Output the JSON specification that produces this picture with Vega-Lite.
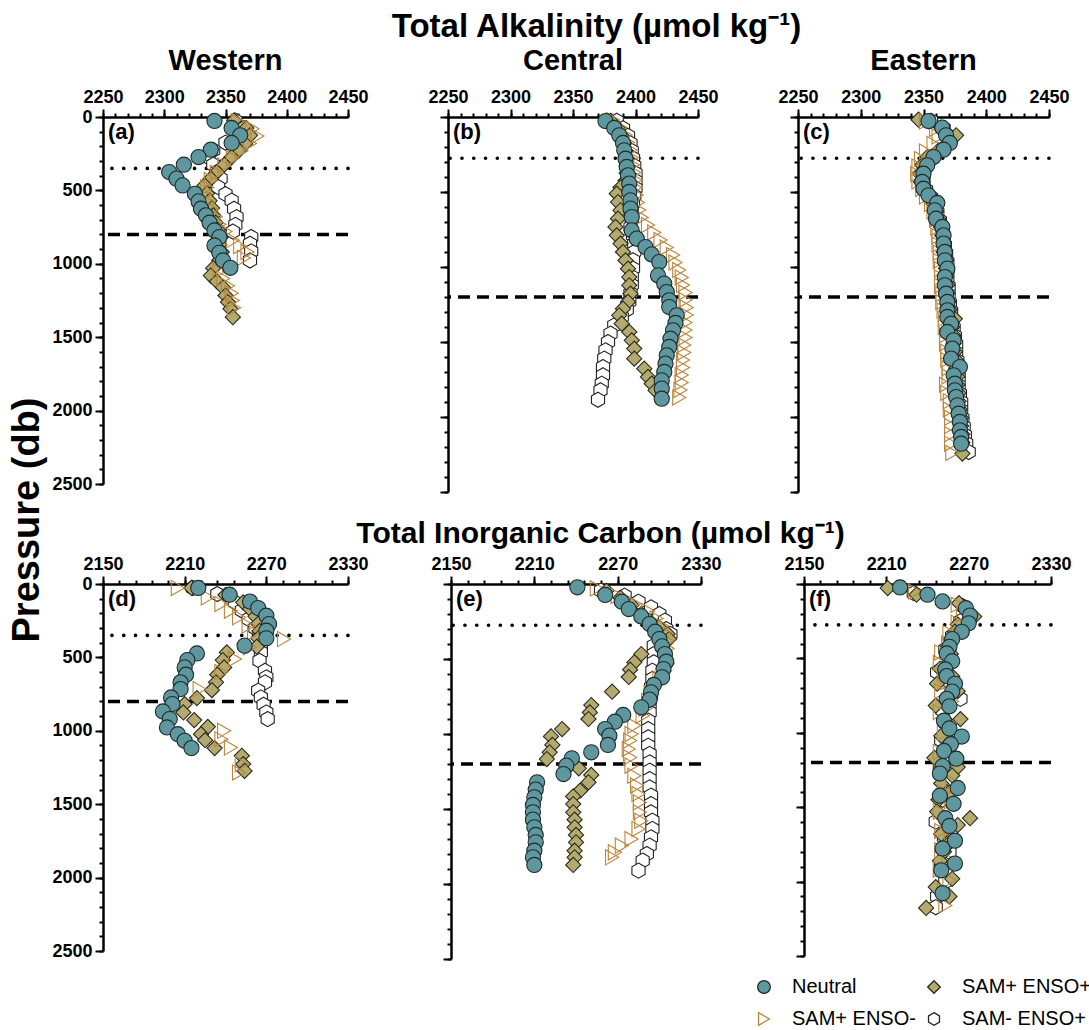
{
  "$schema": "https://vega.github.io/schema/vega-lite/v6.json",
  "background": "white",
  "padding": {"left": 8, "top": 11, "right": 4, "bottom": 4},
  "title": {"text": "Pressure (db)", "orient": "left", "anchor": "middle", "frame": "bounds", "font": "Liberation Sans", "fontWeight": "bold", "fontSize": 38, "offset": 5},
  "datasets": {
    "refs": [
      {"panel": "a", "kind": "dotted", "pres": 350}, {"panel": "a", "kind": "dashed", "pres": 800},
      {"panel": "b", "kind": "dotted", "pres": 275}, {"panel": "b", "kind": "dashed", "pres": 1200},
      {"panel": "c", "kind": "dotted", "pres": 275}, {"panel": "c", "kind": "dashed", "pres": 1200},
      {"panel": "d", "kind": "dotted", "pres": 350}, {"panel": "d", "kind": "dashed", "pres": 800},
      {"panel": "e", "kind": "dotted", "pres": 275}, {"panel": "e", "kind": "dashed", "pres": 1200},
      {"panel": "f", "kind": "dotted", "pres": 275}, {"panel": "f", "kind": "dashed", "pres": 1200}
    ],
    "profiles": [
      {"panel":"a","series":"SAM- ENSO+","conc":2358,"pres":25},{"panel":"a","series":"SAM- ENSO+","conc":2365,"pres":75},{"panel":"a","series":"SAM- ENSO+","conc":2360,"pres":125},{"panel":"a","series":"SAM- ENSO+","conc":2350,"pres":175},{"panel":"a","series":"SAM- ENSO+","conc":2340,"pres":225},{"panel":"a","series":"SAM- ENSO+","conc":2336,"pres":275},{"panel":"a","series":"SAM- ENSO+","conc":2340,"pres":325},{"panel":"a","series":"SAM- ENSO+","conc":2343,"pres":375},{"panel":"a","series":"SAM- ENSO+","conc":2346,"pres":420},{"panel":"a","series":"SAM- ENSO+","conc":2344,"pres":477},{"panel":"a","series":"SAM- ENSO+","conc":2350,"pres":525},{"panel":"a","series":"SAM- ENSO+","conc":2355,"pres":570},{"panel":"a","series":"SAM- ENSO+","conc":2357,"pres":625},{"panel":"a","series":"SAM- ENSO+","conc":2359,"pres":682},{"panel":"a","series":"SAM- ENSO+","conc":2358,"pres":735},{"panel":"a","series":"SAM- ENSO+","conc":2356,"pres":780},{"panel":"a","series":"SAM- ENSO+","conc":2371,"pres":818},{"panel":"a","series":"SAM- ENSO+","conc":2370,"pres":864},{"panel":"a","series":"SAM- ENSO+","conc":2371,"pres":916},{"panel":"a","series":"SAM- ENSO+","conc":2370,"pres":977},
      {"panel":"a","series":"SAM+ ENSO+","conc":2357,"pres":23},{"panel":"a","series":"SAM+ ENSO+","conc":2367,"pres":75},{"panel":"a","series":"SAM+ ENSO+","conc":2370,"pres":125},{"panel":"a","series":"SAM+ ENSO+","conc":2366,"pres":182},{"panel":"a","series":"SAM+ ENSO+","conc":2361,"pres":227},{"panel":"a","series":"SAM+ ENSO+","conc":2355,"pres":273},{"panel":"a","series":"SAM+ ENSO+","conc":2349,"pres":325},{"panel":"a","series":"SAM+ ENSO+","conc":2343,"pres":375},{"panel":"a","series":"SAM+ ENSO+","conc":2338,"pres":420},{"panel":"a","series":"SAM+ ENSO+","conc":2333,"pres":466},{"panel":"a","series":"SAM+ ENSO+","conc":2335,"pres":520},{"panel":"a","series":"SAM+ ENSO+","conc":2337,"pres":570},{"panel":"a","series":"SAM+ ENSO+","conc":2339,"pres":620},{"panel":"a","series":"SAM+ ENSO+","conc":2340,"pres":670},{"panel":"a","series":"SAM+ ENSO+","conc":2342,"pres":720},{"panel":"a","series":"SAM+ ENSO+","conc":2344,"pres":770},{"panel":"a","series":"SAM+ ENSO+","conc":2346,"pres":820},{"panel":"a","series":"SAM+ ENSO+","conc":2345,"pres":870},{"panel":"a","series":"SAM+ ENSO+","conc":2347,"pres":920},{"panel":"a","series":"SAM+ ENSO+","conc":2345,"pres":975},{"panel":"a","series":"SAM+ ENSO+","conc":2340,"pres":1030},{"panel":"a","series":"SAM+ ENSO+","conc":2338,"pres":1080},{"panel":"a","series":"SAM+ ENSO+","conc":2343,"pres":1120},{"panel":"a","series":"SAM+ ENSO+","conc":2348,"pres":1161},{"panel":"a","series":"SAM+ ENSO+","conc":2350,"pres":1216},{"panel":"a","series":"SAM+ ENSO+","conc":2352,"pres":1261},{"panel":"a","series":"SAM+ ENSO+","conc":2354,"pres":1307},{"panel":"a","series":"SAM+ ENSO+","conc":2356,"pres":1364},
      {"panel":"a","series":"SAM+ ENSO-","conc":2360,"pres":30},{"panel":"a","series":"SAM+ ENSO-","conc":2372,"pres":80},{"panel":"a","series":"SAM+ ENSO-","conc":2376,"pres":130},{"panel":"a","series":"SAM+ ENSO-","conc":2370,"pres":180},{"panel":"a","series":"SAM+ ENSO-","conc":2363,"pres":230},{"panel":"a","series":"SAM+ ENSO-","conc":2356,"pres":280},{"panel":"a","series":"SAM+ ENSO-","conc":2349,"pres":330},{"panel":"a","series":"SAM+ ENSO-","conc":2343,"pres":380},{"panel":"a","series":"SAM+ ENSO-","conc":2338,"pres":430},{"panel":"a","series":"SAM+ ENSO-","conc":2335,"pres":480},{"panel":"a","series":"SAM+ ENSO-","conc":2333,"pres":530},{"panel":"a","series":"SAM+ ENSO-","conc":2336,"pres":580},{"panel":"a","series":"SAM+ ENSO-","conc":2339,"pres":630},{"panel":"a","series":"SAM+ ENSO-","conc":2342,"pres":680},{"panel":"a","series":"SAM+ ENSO-","conc":2345,"pres":730},{"panel":"a","series":"SAM+ ENSO-","conc":2350,"pres":780},{"panel":"a","series":"SAM+ ENSO-","conc":2356,"pres":840},{"panel":"a","series":"SAM+ ENSO-","conc":2362,"pres":880},{"panel":"a","series":"SAM+ ENSO-","conc":2368,"pres":920},{"panel":"a","series":"SAM+ ENSO-","conc":2365,"pres":960},{"panel":"a","series":"SAM+ ENSO-","conc":2353,"pres":1000},{"panel":"a","series":"SAM+ ENSO-","conc":2345,"pres":1050},{"panel":"a","series":"SAM+ ENSO-","conc":2348,"pres":1100},{"panel":"a","series":"SAM+ ENSO-","conc":2352,"pres":1150},{"panel":"a","series":"SAM+ ENSO-","conc":2355,"pres":1200},{"panel":"a","series":"SAM+ ENSO-","conc":2356,"pres":1250},{"panel":"a","series":"SAM+ ENSO-","conc":2357,"pres":1300},
      {"panel":"a","series":"Neutral","conc":2341,"pres":27},{"panel":"a","series":"Neutral","conc":2355,"pres":75},{"panel":"a","series":"Neutral","conc":2362,"pres":125},{"panel":"a","series":"Neutral","conc":2355,"pres":177},{"panel":"a","series":"Neutral","conc":2338,"pres":223},{"panel":"a","series":"Neutral","conc":2328,"pres":273},{"panel":"a","series":"Neutral","conc":2316,"pres":325},{"panel":"a","series":"Neutral","conc":2304,"pres":375},{"panel":"a","series":"Neutral","conc":2310,"pres":420},{"panel":"a","series":"Neutral","conc":2315,"pres":466},{"panel":"a","series":"Neutral","conc":2325,"pres":523},{"panel":"a","series":"Neutral","conc":2328,"pres":575},{"panel":"a","series":"Neutral","conc":2330,"pres":625},{"panel":"a","series":"Neutral","conc":2334,"pres":670},{"panel":"a","series":"Neutral","conc":2337,"pres":720},{"panel":"a","series":"Neutral","conc":2341,"pres":773},{"panel":"a","series":"Neutral","conc":2345,"pres":818},{"panel":"a","series":"Neutral","conc":2341,"pres":875},{"panel":"a","series":"Neutral","conc":2345,"pres":925},{"panel":"a","series":"Neutral","conc":2348,"pres":977},{"panel":"a","series":"Neutral","conc":2354,"pres":1027},

      {"panel":"b","series":"SAM- ENSO+","conc":2385,"pres":25},{"panel":"b","series":"SAM- ENSO+","conc":2390,"pres":75},{"panel":"b","series":"SAM- ENSO+","conc":2394,"pres":125},{"panel":"b","series":"SAM- ENSO+","conc":2396,"pres":175},{"panel":"b","series":"SAM- ENSO+","conc":2397,"pres":225},{"panel":"b","series":"SAM- ENSO+","conc":2398,"pres":275},{"panel":"b","series":"SAM- ENSO+","conc":2399,"pres":325},{"panel":"b","series":"SAM- ENSO+","conc":2400,"pres":375},{"panel":"b","series":"SAM- ENSO+","conc":2400,"pres":425},{"panel":"b","series":"SAM- ENSO+","conc":2400,"pres":475},{"panel":"b","series":"SAM- ENSO+","conc":2399,"pres":525},{"panel":"b","series":"SAM- ENSO+","conc":2398,"pres":575},{"panel":"b","series":"SAM- ENSO+","conc":2397,"pres":625},{"panel":"b","series":"SAM- ENSO+","conc":2397,"pres":680},{"panel":"b","series":"SAM- ENSO+","conc":2396,"pres":735},{"panel":"b","series":"SAM- ENSO+","conc":2398,"pres":790},{"panel":"b","series":"SAM- ENSO+","conc":2399,"pres":845},{"panel":"b","series":"SAM- ENSO+","conc":2399,"pres":900},{"panel":"b","series":"SAM- ENSO+","conc":2398,"pres":955},{"panel":"b","series":"SAM- ENSO+","conc":2398,"pres":1010},{"panel":"b","series":"SAM- ENSO+","conc":2397,"pres":1065},{"panel":"b","series":"SAM- ENSO+","conc":2397,"pres":1120},{"panel":"b","series":"SAM- ENSO+","conc":2396,"pres":1175},{"panel":"b","series":"SAM- ENSO+","conc":2395,"pres":1230},{"panel":"b","series":"SAM- ENSO+","conc":2393,"pres":1285},{"panel":"b","series":"SAM- ENSO+","conc":2389,"pres":1333},{"panel":"b","series":"SAM- ENSO+","conc":2383,"pres":1389},{"panel":"b","series":"SAM- ENSO+","conc":2380,"pres":1444},{"panel":"b","series":"SAM- ENSO+","conc":2378,"pres":1500},{"panel":"b","series":"SAM- ENSO+","conc":2376,"pres":1556},{"panel":"b","series":"SAM- ENSO+","conc":2375,"pres":1611},{"panel":"b","series":"SAM- ENSO+","conc":2374,"pres":1667},{"panel":"b","series":"SAM- ENSO+","conc":2374,"pres":1722},{"panel":"b","series":"SAM- ENSO+","conc":2373,"pres":1778},{"panel":"b","series":"SAM- ENSO+","conc":2372,"pres":1822},{"panel":"b","series":"SAM- ENSO+","conc":2370,"pres":1885},
      {"panel":"b","series":"SAM+ ENSO+","conc":2380,"pres":25},{"panel":"b","series":"SAM+ ENSO+","conc":2386,"pres":75},{"panel":"b","series":"SAM+ ENSO+","conc":2389,"pres":125},{"panel":"b","series":"SAM+ ENSO+","conc":2391,"pres":175},{"panel":"b","series":"SAM+ ENSO+","conc":2392,"pres":225},{"panel":"b","series":"SAM+ ENSO+","conc":2393,"pres":275},{"panel":"b","series":"SAM+ ENSO+","conc":2393,"pres":325},{"panel":"b","series":"SAM+ ENSO+","conc":2393,"pres":375},{"panel":"b","series":"SAM+ ENSO+","conc":2392,"pres":425},{"panel":"b","series":"SAM+ ENSO+","conc":2388,"pres":470},{"panel":"b","series":"SAM+ ENSO+","conc":2385,"pres":511},{"panel":"b","series":"SAM+ ENSO+","conc":2386,"pres":567},{"panel":"b","series":"SAM+ ENSO+","conc":2388,"pres":622},{"panel":"b","series":"SAM+ ENSO+","conc":2386,"pres":678},{"panel":"b","series":"SAM+ ENSO+","conc":2384,"pres":733},{"panel":"b","series":"SAM+ ENSO+","conc":2385,"pres":789},{"panel":"b","series":"SAM+ ENSO+","conc":2388,"pres":844},{"panel":"b","series":"SAM+ ENSO+","conc":2390,"pres":900},{"panel":"b","series":"SAM+ ENSO+","conc":2392,"pres":956},{"panel":"b","series":"SAM+ ENSO+","conc":2394,"pres":1011},{"panel":"b","series":"SAM+ ENSO+","conc":2395,"pres":1067},{"panel":"b","series":"SAM+ ENSO+","conc":2395,"pres":1122},{"panel":"b","series":"SAM+ ENSO+","conc":2396,"pres":1178},{"panel":"b","series":"SAM+ ENSO+","conc":2394,"pres":1233},{"panel":"b","series":"SAM+ ENSO+","conc":2390,"pres":1278},{"panel":"b","series":"SAM+ ENSO+","conc":2387,"pres":1322},{"panel":"b","series":"SAM+ ENSO+","conc":2389,"pres":1378},{"panel":"b","series":"SAM+ ENSO+","conc":2395,"pres":1433},{"panel":"b","series":"SAM+ ENSO+","conc":2397,"pres":1489},{"panel":"b","series":"SAM+ ENSO+","conc":2399,"pres":1544},{"panel":"b","series":"SAM+ ENSO+","conc":2399,"pres":1611},{"panel":"b","series":"SAM+ ENSO+","conc":2407,"pres":1678},{"panel":"b","series":"SAM+ ENSO+","conc":2410,"pres":1733},{"panel":"b","series":"SAM+ ENSO+","conc":2413,"pres":1778},{"panel":"b","series":"SAM+ ENSO+","conc":2416,"pres":1822},
      {"panel":"b","series":"SAM+ ENSO-","conc":2382,"pres":20},{"panel":"b","series":"SAM+ ENSO-","conc":2388,"pres":70},{"panel":"b","series":"SAM+ ENSO-","conc":2392,"pres":120},{"panel":"b","series":"SAM+ ENSO-","conc":2394,"pres":170},{"panel":"b","series":"SAM+ ENSO-","conc":2396,"pres":220},{"panel":"b","series":"SAM+ ENSO-","conc":2397,"pres":270},{"panel":"b","series":"SAM+ ENSO-","conc":2398,"pres":320},{"panel":"b","series":"SAM+ ENSO-","conc":2399,"pres":370},{"panel":"b","series":"SAM+ ENSO-","conc":2400,"pres":420},{"panel":"b","series":"SAM+ ENSO-","conc":2400,"pres":470},{"panel":"b","series":"SAM+ ENSO-","conc":2401,"pres":520},{"panel":"b","series":"SAM+ ENSO-","conc":2402,"pres":570},{"panel":"b","series":"SAM+ ENSO-","conc":2403,"pres":620},{"panel":"b","series":"SAM+ ENSO-","conc":2405,"pres":670},{"panel":"b","series":"SAM+ ENSO-","conc":2410,"pres":720},{"panel":"b","series":"SAM+ ENSO-","conc":2415,"pres":770},{"panel":"b","series":"SAM+ ENSO-","conc":2420,"pres":820},{"panel":"b","series":"SAM+ ENSO-","conc":2425,"pres":870},{"panel":"b","series":"SAM+ ENSO-","conc":2430,"pres":920},{"panel":"b","series":"SAM+ ENSO-","conc":2432,"pres":970},{"panel":"b","series":"SAM+ ENSO-","conc":2435,"pres":1020},{"panel":"b","series":"SAM+ ENSO-","conc":2437,"pres":1070},{"panel":"b","series":"SAM+ ENSO-","conc":2438,"pres":1120},{"panel":"b","series":"SAM+ ENSO-","conc":2440,"pres":1170},{"panel":"b","series":"SAM+ ENSO-","conc":2440,"pres":1220},{"panel":"b","series":"SAM+ ENSO-","conc":2441,"pres":1270},{"panel":"b","series":"SAM+ ENSO-","conc":2441,"pres":1320},{"panel":"b","series":"SAM+ ENSO-","conc":2440,"pres":1370},{"panel":"b","series":"SAM+ ENSO-","conc":2440,"pres":1420},{"panel":"b","series":"SAM+ ENSO-","conc":2440,"pres":1470},{"panel":"b","series":"SAM+ ENSO-","conc":2439,"pres":1520},{"panel":"b","series":"SAM+ ENSO-","conc":2439,"pres":1570},{"panel":"b","series":"SAM+ ENSO-","conc":2438,"pres":1620},{"panel":"b","series":"SAM+ ENSO-","conc":2438,"pres":1670},{"panel":"b","series":"SAM+ ENSO-","conc":2437,"pres":1720},{"panel":"b","series":"SAM+ ENSO-","conc":2437,"pres":1770},{"panel":"b","series":"SAM+ ENSO-","conc":2436,"pres":1820},{"panel":"b","series":"SAM+ ENSO-","conc":2435,"pres":1870},
      {"panel":"b","series":"Neutral","conc":2376,"pres":27},{"panel":"b","series":"Neutral","conc":2383,"pres":73},{"panel":"b","series":"Neutral","conc":2387,"pres":122},{"panel":"b","series":"Neutral","conc":2390,"pres":173},{"panel":"b","series":"Neutral","conc":2391,"pres":222},{"panel":"b","series":"Neutral","conc":2392,"pres":278},{"panel":"b","series":"Neutral","conc":2393,"pres":333},{"panel":"b","series":"Neutral","conc":2394,"pres":389},{"panel":"b","series":"Neutral","conc":2395,"pres":444},{"panel":"b","series":"Neutral","conc":2395,"pres":500},{"panel":"b","series":"Neutral","conc":2396,"pres":556},{"panel":"b","series":"Neutral","conc":2396,"pres":611},{"panel":"b","series":"Neutral","conc":2397,"pres":667},{"panel":"b","series":"Neutral","conc":2397,"pres":756},{"panel":"b","series":"Neutral","conc":2401,"pres":811},{"panel":"b","series":"Neutral","conc":2408,"pres":867},{"panel":"b","series":"Neutral","conc":2413,"pres":916},{"panel":"b","series":"Neutral","conc":2419,"pres":967},{"panel":"b","series":"Neutral","conc":2418,"pres":1056},{"panel":"b","series":"Neutral","conc":2423,"pres":1111},{"panel":"b","series":"Neutral","conc":2425,"pres":1167},{"panel":"b","series":"Neutral","conc":2427,"pres":1222},{"panel":"b","series":"Neutral","conc":2427,"pres":1267},{"panel":"b","series":"Neutral","conc":2433,"pres":1322},{"panel":"b","series":"Neutral","conc":2432,"pres":1373},{"panel":"b","series":"Neutral","conc":2430,"pres":1422},{"panel":"b","series":"Neutral","conc":2428,"pres":1478},{"panel":"b","series":"Neutral","conc":2427,"pres":1533},{"panel":"b","series":"Neutral","conc":2425,"pres":1589},{"panel":"b","series":"Neutral","conc":2424,"pres":1644},{"panel":"b","series":"Neutral","conc":2423,"pres":1700},{"panel":"b","series":"Neutral","conc":2421,"pres":1756},{"panel":"b","series":"Neutral","conc":2421,"pres":1811},{"panel":"b","series":"Neutral","conc":2421,"pres":1878},

      {"panel":"c","series":"SAM- ENSO+","conc":2356,"pres":25},{"panel":"c","series":"SAM- ENSO+","conc":2366,"pres":75},{"panel":"c","series":"SAM- ENSO+","conc":2370,"pres":125},{"panel":"c","series":"SAM- ENSO+","conc":2370,"pres":175},{"panel":"c","series":"SAM- ENSO+","conc":2364,"pres":225},{"panel":"c","series":"SAM- ENSO+","conc":2357,"pres":275},{"panel":"c","series":"SAM- ENSO+","conc":2352,"pres":325},{"panel":"c","series":"SAM- ENSO+","conc":2350,"pres":380},{"panel":"c","series":"SAM- ENSO+","conc":2350,"pres":435},{"panel":"c","series":"SAM- ENSO+","conc":2352,"pres":485},{"panel":"c","series":"SAM- ENSO+","conc":2356,"pres":535},{"panel":"c","series":"SAM- ENSO+","conc":2360,"pres":585},{"panel":"c","series":"SAM- ENSO+","conc":2361,"pres":635},{"panel":"c","series":"SAM- ENSO+","conc":2363,"pres":690},{"panel":"c","series":"SAM- ENSO+","conc":2365,"pres":745},{"panel":"c","series":"SAM- ENSO+","conc":2366,"pres":800},{"panel":"c","series":"SAM- ENSO+","conc":2367,"pres":855},{"panel":"c","series":"SAM- ENSO+","conc":2368,"pres":910},{"panel":"c","series":"SAM- ENSO+","conc":2369,"pres":965},{"panel":"c","series":"SAM- ENSO+","conc":2369,"pres":1020},{"panel":"c","series":"SAM- ENSO+","conc":2369,"pres":1075},{"panel":"c","series":"SAM- ENSO+","conc":2370,"pres":1130},{"panel":"c","series":"SAM- ENSO+","conc":2370,"pres":1185},{"panel":"c","series":"SAM- ENSO+","conc":2371,"pres":1240},{"panel":"c","series":"SAM- ENSO+","conc":2372,"pres":1295},{"panel":"c","series":"SAM- ENSO+","conc":2373,"pres":1350},{"panel":"c","series":"SAM- ENSO+","conc":2374,"pres":1405},{"panel":"c","series":"SAM- ENSO+","conc":2375,"pres":1460},{"panel":"c","series":"SAM- ENSO+","conc":2376,"pres":1515},{"panel":"c","series":"SAM- ENSO+","conc":2376,"pres":1570},{"panel":"c","series":"SAM- ENSO+","conc":2377,"pres":1625},{"panel":"c","series":"SAM- ENSO+","conc":2377,"pres":1680},{"panel":"c","series":"SAM- ENSO+","conc":2378,"pres":1735},{"panel":"c","series":"SAM- ENSO+","conc":2378,"pres":1790},{"panel":"c","series":"SAM- ENSO+","conc":2379,"pres":1845},{"panel":"c","series":"SAM- ENSO+","conc":2380,"pres":1900},{"panel":"c","series":"SAM- ENSO+","conc":2380,"pres":1955},{"panel":"c","series":"SAM- ENSO+","conc":2381,"pres":2010},{"panel":"c","series":"SAM- ENSO+","conc":2382,"pres":2065},{"panel":"c","series":"SAM- ENSO+","conc":2383,"pres":2120},{"panel":"c","series":"SAM- ENSO+","conc":2384,"pres":2175},{"panel":"c","series":"SAM- ENSO+","conc":2386,"pres":2233},
      {"panel":"c","series":"SAM+ ENSO+","conc":2346,"pres":18},{"panel":"c","series":"SAM+ ENSO+","conc":2364,"pres":70},{"panel":"c","series":"SAM+ ENSO+","conc":2376,"pres":122},{"panel":"c","series":"SAM+ ENSO+","conc":2370,"pres":175},{"panel":"c","series":"SAM+ ENSO+","conc":2362,"pres":222},{"panel":"c","series":"SAM+ ENSO+","conc":2353,"pres":267},{"panel":"c","series":"SAM+ ENSO+","conc":2349,"pres":320},{"panel":"c","series":"SAM+ ENSO+","conc":2347,"pres":378},{"panel":"c","series":"SAM+ ENSO+","conc":2348,"pres":433},{"panel":"c","series":"SAM+ ENSO+","conc":2350,"pres":485},{"panel":"c","series":"SAM+ ENSO+","conc":2356,"pres":530},{"panel":"c","series":"SAM+ ENSO+","conc":2358,"pres":580},{"panel":"c","series":"SAM+ ENSO+","conc":2360,"pres":630},{"panel":"c","series":"SAM+ ENSO+","conc":2362,"pres":680},{"panel":"c","series":"SAM+ ENSO+","conc":2364,"pres":735},{"panel":"c","series":"SAM+ ENSO+","conc":2365,"pres":790},{"panel":"c","series":"SAM+ ENSO+","conc":2366,"pres":845},{"panel":"c","series":"SAM+ ENSO+","conc":2366,"pres":900},{"panel":"c","series":"SAM+ ENSO+","conc":2368,"pres":955},{"panel":"c","series":"SAM+ ENSO+","conc":2368,"pres":1010},{"panel":"c","series":"SAM+ ENSO+","conc":2368,"pres":1065},{"panel":"c","series":"SAM+ ENSO+","conc":2369,"pres":1120},{"panel":"c","series":"SAM+ ENSO+","conc":2369,"pres":1175},{"panel":"c","series":"SAM+ ENSO+","conc":2370,"pres":1230},{"panel":"c","series":"SAM+ ENSO+","conc":2371,"pres":1285},{"panel":"c","series":"SAM+ ENSO+","conc":2375,"pres":1345},{"panel":"c","series":"SAM+ ENSO+","conc":2373,"pres":1400},{"panel":"c","series":"SAM+ ENSO+","conc":2374,"pres":1455},{"panel":"c","series":"SAM+ ENSO+","conc":2374,"pres":1510},{"panel":"c","series":"SAM+ ENSO+","conc":2375,"pres":1565},{"panel":"c","series":"SAM+ ENSO+","conc":2376,"pres":1620},{"panel":"c","series":"SAM+ ENSO+","conc":2376,"pres":1675},{"panel":"c","series":"SAM+ ENSO+","conc":2377,"pres":1730},{"panel":"c","series":"SAM+ ENSO+","conc":2377,"pres":1785},{"panel":"c","series":"SAM+ ENSO+","conc":2378,"pres":1840},{"panel":"c","series":"SAM+ ENSO+","conc":2378,"pres":1895},{"panel":"c","series":"SAM+ ENSO+","conc":2379,"pres":1950},{"panel":"c","series":"SAM+ ENSO+","conc":2380,"pres":2005},{"panel":"c","series":"SAM+ ENSO+","conc":2380,"pres":2060},{"panel":"c","series":"SAM+ ENSO+","conc":2381,"pres":2115},{"panel":"c","series":"SAM+ ENSO+","conc":2381,"pres":2170},{"panel":"c","series":"SAM+ ENSO+","conc":2381,"pres":2244},
      {"panel":"c","series":"SAM+ ENSO-","conc":2352,"pres":30},{"panel":"c","series":"SAM+ ENSO-","conc":2360,"pres":80},{"panel":"c","series":"SAM+ ENSO-","conc":2362,"pres":130},{"panel":"c","series":"SAM+ ENSO-","conc":2358,"pres":180},{"panel":"c","series":"SAM+ ENSO-","conc":2352,"pres":230},{"panel":"c","series":"SAM+ ENSO-","conc":2348,"pres":280},{"panel":"c","series":"SAM+ ENSO-","conc":2346,"pres":330},{"panel":"c","series":"SAM+ ENSO-","conc":2345,"pres":380},{"panel":"c","series":"SAM+ ENSO-","conc":2346,"pres":430},{"panel":"c","series":"SAM+ ENSO-","conc":2349,"pres":480},{"panel":"c","series":"SAM+ ENSO-","conc":2352,"pres":530},{"panel":"c","series":"SAM+ ENSO-","conc":2356,"pres":580},{"panel":"c","series":"SAM+ ENSO-","conc":2358,"pres":630},{"panel":"c","series":"SAM+ ENSO-","conc":2360,"pres":685},{"panel":"c","series":"SAM+ ENSO-","conc":2361,"pres":740},{"panel":"c","series":"SAM+ ENSO-","conc":2362,"pres":795},{"panel":"c","series":"SAM+ ENSO-","conc":2362,"pres":850},{"panel":"c","series":"SAM+ ENSO-","conc":2363,"pres":905},{"panel":"c","series":"SAM+ ENSO-","conc":2363,"pres":960},{"panel":"c","series":"SAM+ ENSO-","conc":2364,"pres":1015},{"panel":"c","series":"SAM+ ENSO-","conc":2364,"pres":1070},{"panel":"c","series":"SAM+ ENSO-","conc":2364,"pres":1125},{"panel":"c","series":"SAM+ ENSO-","conc":2365,"pres":1180},{"panel":"c","series":"SAM+ ENSO-","conc":2365,"pres":1235},{"panel":"c","series":"SAM+ ENSO-","conc":2366,"pres":1290},{"panel":"c","series":"SAM+ ENSO-","conc":2367,"pres":1345},{"panel":"c","series":"SAM+ ENSO-","conc":2367,"pres":1400},{"panel":"c","series":"SAM+ ENSO-","conc":2368,"pres":1455},{"panel":"c","series":"SAM+ ENSO-","conc":2368,"pres":1510},{"panel":"c","series":"SAM+ ENSO-","conc":2369,"pres":1565},{"panel":"c","series":"SAM+ ENSO-","conc":2369,"pres":1620},{"panel":"c","series":"SAM+ ENSO-","conc":2370,"pres":1675},{"panel":"c","series":"SAM+ ENSO-","conc":2370,"pres":1730},{"panel":"c","series":"SAM+ ENSO-","conc":2368,"pres":1785},{"panel":"c","series":"SAM+ ENSO-","conc":2369,"pres":1840},{"panel":"c","series":"SAM+ ENSO-","conc":2371,"pres":1895},{"panel":"c","series":"SAM+ ENSO-","conc":2371,"pres":1950},{"panel":"c","series":"SAM+ ENSO-","conc":2372,"pres":2005},{"panel":"c","series":"SAM+ ENSO-","conc":2372,"pres":2060},{"panel":"c","series":"SAM+ ENSO-","conc":2372,"pres":2115},{"panel":"c","series":"SAM+ ENSO-","conc":2372,"pres":2178},{"panel":"c","series":"SAM+ ENSO-","conc":2373,"pres":2240},
      {"panel":"c","series":"Neutral","conc":2354,"pres":27},{"panel":"c","series":"Neutral","conc":2365,"pres":71},{"panel":"c","series":"Neutral","conc":2368,"pres":122},{"panel":"c","series":"Neutral","conc":2371,"pres":173},{"panel":"c","series":"Neutral","conc":2366,"pres":218},{"panel":"c","series":"Neutral","conc":2358,"pres":267},{"panel":"c","series":"Neutral","conc":2353,"pres":322},{"panel":"c","series":"Neutral","conc":2350,"pres":378},{"panel":"c","series":"Neutral","conc":2349,"pres":433},{"panel":"c","series":"Neutral","conc":2350,"pres":478},{"panel":"c","series":"Neutral","conc":2354,"pres":522},{"panel":"c","series":"Neutral","conc":2361,"pres":573},{"panel":"c","series":"Neutral","conc":2359,"pres":622},{"panel":"c","series":"Neutral","conc":2360,"pres":678},{"panel":"c","series":"Neutral","conc":2365,"pres":733},{"panel":"c","series":"Neutral","conc":2366,"pres":789},{"panel":"c","series":"Neutral","conc":2366,"pres":844},{"panel":"c","series":"Neutral","conc":2367,"pres":900},{"panel":"c","series":"Neutral","conc":2367,"pres":956},{"panel":"c","series":"Neutral","conc":2369,"pres":1011},{"panel":"c","series":"Neutral","conc":2367,"pres":1067},{"panel":"c","series":"Neutral","conc":2367,"pres":1122},{"panel":"c","series":"Neutral","conc":2368,"pres":1178},{"panel":"c","series":"Neutral","conc":2369,"pres":1233},{"panel":"c","series":"Neutral","conc":2369,"pres":1289},{"panel":"c","series":"Neutral","conc":2369,"pres":1333},{"panel":"c","series":"Neutral","conc":2372,"pres":1378},{"panel":"c","series":"Neutral","conc":2369,"pres":1433},{"panel":"c","series":"Neutral","conc":2374,"pres":1489},{"panel":"c","series":"Neutral","conc":2373,"pres":1544},{"panel":"c","series":"Neutral","conc":2372,"pres":1611},{"panel":"c","series":"Neutral","conc":2379,"pres":1667},{"panel":"c","series":"Neutral","conc":2374,"pres":1722},{"panel":"c","series":"Neutral","conc":2375,"pres":1778},{"panel":"c","series":"Neutral","conc":2375,"pres":1822},{"panel":"c","series":"Neutral","conc":2376,"pres":1867},{"panel":"c","series":"Neutral","conc":2377,"pres":1922},{"panel":"c","series":"Neutral","conc":2378,"pres":1978},{"panel":"c","series":"Neutral","conc":2379,"pres":2033},{"panel":"c","series":"Neutral","conc":2379,"pres":2089},{"panel":"c","series":"Neutral","conc":2380,"pres":2133},{"panel":"c","series":"Neutral","conc":2380,"pres":2178},

      {"panel":"d","series":"SAM- ENSO+","conc":2216,"pres":27},{"panel":"d","series":"SAM- ENSO+","conc":2234,"pres":68},{"panel":"d","series":"SAM- ENSO+","conc":2247,"pres":125},{"panel":"d","series":"SAM- ENSO+","conc":2252,"pres":180},{"panel":"d","series":"SAM- ENSO+","conc":2257,"pres":239},{"panel":"d","series":"SAM- ENSO+","conc":2262,"pres":300},{"panel":"d","series":"SAM- ENSO+","conc":2265,"pres":350},{"panel":"d","series":"SAM- ENSO+","conc":2266,"pres":409},{"panel":"d","series":"SAM- ENSO+","conc":2266,"pres":466},{"panel":"d","series":"SAM- ENSO+","conc":2265,"pres":523},{"panel":"d","series":"SAM- ENSO+","conc":2269,"pres":591},{"panel":"d","series":"SAM- ENSO+","conc":2270,"pres":636},{"panel":"d","series":"SAM- ENSO+","conc":2269,"pres":670},{"panel":"d","series":"SAM- ENSO+","conc":2264,"pres":727},{"panel":"d","series":"SAM- ENSO+","conc":2266,"pres":773},{"panel":"d","series":"SAM- ENSO+","conc":2268,"pres":823},{"panel":"d","series":"SAM- ENSO+","conc":2270,"pres":875},{"panel":"d","series":"SAM- ENSO+","conc":2271,"pres":920},
      {"panel":"d","series":"SAM+ ENSO+","conc":2215,"pres":27},{"panel":"d","series":"SAM+ ENSO+","conc":2240,"pres":75},{"panel":"d","series":"SAM+ ENSO+","conc":2253,"pres":125},{"panel":"d","series":"SAM+ ENSO+","conc":2258,"pres":170},{"panel":"d","series":"SAM+ ENSO+","conc":2262,"pres":220},{"panel":"d","series":"SAM+ ENSO+","conc":2264,"pres":270},{"panel":"d","series":"SAM+ ENSO+","conc":2265,"pres":320},{"panel":"d","series":"SAM+ ENSO+","conc":2264,"pres":370},{"panel":"d","series":"SAM+ ENSO+","conc":2263,"pres":427},{"panel":"d","series":"SAM+ ENSO+","conc":2241,"pres":466},{"panel":"d","series":"SAM+ ENSO+","conc":2238,"pres":518},{"panel":"d","series":"SAM+ ENSO+","conc":2239,"pres":568},{"panel":"d","series":"SAM+ ENSO+","conc":2234,"pres":618},{"panel":"d","series":"SAM+ ENSO+","conc":2233,"pres":670},{"panel":"d","series":"SAM+ ENSO+","conc":2230,"pres":723},{"panel":"d","series":"SAM+ ENSO+","conc":2219,"pres":777},{"panel":"d","series":"SAM+ ENSO+","conc":2210,"pres":818},{"panel":"d","series":"SAM+ ENSO+","conc":2209,"pres":875},{"panel":"d","series":"SAM+ ENSO+","conc":2217,"pres":927},{"panel":"d","series":"SAM+ ENSO+","conc":2227,"pres":973},{"panel":"d","series":"SAM+ ENSO+","conc":2222,"pres":1023},{"panel":"d","series":"SAM+ ENSO+","conc":2225,"pres":1064},{"panel":"d","series":"SAM+ ENSO+","conc":2232,"pres":1118},{"panel":"d","series":"SAM+ ENSO+","conc":2252,"pres":1170},{"panel":"d","series":"SAM+ ENSO+","conc":2253,"pres":1227},{"panel":"d","series":"SAM+ ENSO+","conc":2254,"pres":1273},
      {"panel":"d","series":"SAM+ ENSO-","conc":2205,"pres":27},{"panel":"d","series":"SAM+ ENSO-","conc":2227,"pres":91},{"panel":"d","series":"SAM+ ENSO-","conc":2237,"pres":136},{"panel":"d","series":"SAM+ ENSO-","conc":2244,"pres":182},{"panel":"d","series":"SAM+ ENSO-","conc":2250,"pres":227},{"panel":"d","series":"SAM+ ENSO-","conc":2257,"pres":284},{"panel":"d","series":"SAM+ ENSO-","conc":2261,"pres":330},{"panel":"d","series":"SAM+ ENSO-","conc":2283,"pres":375},{"panel":"d","series":"SAM+ ENSO-","conc":2258,"pres":430},{"panel":"d","series":"SAM+ ENSO-","conc":2247,"pres":511},{"panel":"d","series":"SAM+ ENSO-","conc":2237,"pres":600},{"panel":"d","series":"SAM+ ENSO-","conc":2221,"pres":716},{"panel":"d","series":"SAM+ ENSO-","conc":2239,"pres":1000},{"panel":"d","series":"SAM+ ENSO-","conc":2237,"pres":1057},{"panel":"d","series":"SAM+ ENSO-","conc":2244,"pres":1114},{"panel":"d","series":"SAM+ ENSO-","conc":2252,"pres":1227},{"panel":"d","series":"SAM+ ENSO-","conc":2250,"pres":1284},
      {"panel":"d","series":"Neutral","conc":2220,"pres":27},{"panel":"d","series":"Neutral","conc":2243,"pres":73},{"panel":"d","series":"Neutral","conc":2258,"pres":120},{"panel":"d","series":"Neutral","conc":2264,"pres":164},{"panel":"d","series":"Neutral","conc":2270,"pres":216},{"panel":"d","series":"Neutral","conc":2272,"pres":273},{"panel":"d","series":"Neutral","conc":2270,"pres":318},{"panel":"d","series":"Neutral","conc":2270,"pres":370},{"panel":"d","series":"Neutral","conc":2254,"pres":420},{"panel":"d","series":"Neutral","conc":2219,"pres":473},{"panel":"d","series":"Neutral","conc":2212,"pres":518},{"panel":"d","series":"Neutral","conc":2210,"pres":568},{"panel":"d","series":"Neutral","conc":2211,"pres":618},{"panel":"d","series":"Neutral","conc":2207,"pres":670},{"panel":"d","series":"Neutral","conc":2207,"pres":716},{"panel":"d","series":"Neutral","conc":2200,"pres":773},{"panel":"d","series":"Neutral","conc":2201,"pres":818},{"panel":"d","series":"Neutral","conc":2194,"pres":868},{"panel":"d","series":"Neutral","conc":2199,"pres":920},{"panel":"d","series":"Neutral","conc":2197,"pres":977},{"panel":"d","series":"Neutral","conc":2205,"pres":1023},{"panel":"d","series":"Neutral","conc":2210,"pres":1068},{"panel":"d","series":"Neutral","conc":2215,"pres":1118},

      {"panel":"e","series":"SAM- ENSO+","conc":2258,"pres":44},{"panel":"e","series":"SAM- ENSO+","conc":2275,"pres":78},{"panel":"e","series":"SAM- ENSO+","conc":2285,"pres":118},{"panel":"e","series":"SAM- ENSO+","conc":2294,"pres":156},{"panel":"e","series":"SAM- ENSO+","conc":2300,"pres":200},{"panel":"e","series":"SAM- ENSO+","conc":2304,"pres":244},{"panel":"e","series":"SAM- ENSO+","conc":2305,"pres":300},{"panel":"e","series":"SAM- ENSO+","conc":2308,"pres":333},{"panel":"e","series":"SAM- ENSO+","conc":2302,"pres":370},{"panel":"e","series":"SAM- ENSO+","conc":2296,"pres":411},{"panel":"e","series":"SAM- ENSO+","conc":2296,"pres":467},{"panel":"e","series":"SAM- ENSO+","conc":2296,"pres":522},{"panel":"e","series":"SAM- ENSO+","conc":2295,"pres":578},{"panel":"e","series":"SAM- ENSO+","conc":2295,"pres":633},{"panel":"e","series":"SAM- ENSO+","conc":2294,"pres":689},{"panel":"e","series":"SAM- ENSO+","conc":2294,"pres":744},{"panel":"e","series":"SAM- ENSO+","conc":2293,"pres":800},{"panel":"e","series":"SAM- ENSO+","conc":2293,"pres":856},{"panel":"e","series":"SAM- ENSO+","conc":2292,"pres":911},{"panel":"e","series":"SAM- ENSO+","conc":2292,"pres":967},{"panel":"e","series":"SAM- ENSO+","conc":2292,"pres":1022},{"panel":"e","series":"SAM- ENSO+","conc":2292,"pres":1078},{"panel":"e","series":"SAM- ENSO+","conc":2293,"pres":1133},{"panel":"e","series":"SAM- ENSO+","conc":2293,"pres":1189},{"panel":"e","series":"SAM- ENSO+","conc":2293,"pres":1244},{"panel":"e","series":"SAM- ENSO+","conc":2293,"pres":1300},{"panel":"e","series":"SAM- ENSO+","conc":2293,"pres":1356},{"panel":"e","series":"SAM- ENSO+","conc":2294,"pres":1411},{"panel":"e","series":"SAM- ENSO+","conc":2294,"pres":1467},{"panel":"e","series":"SAM- ENSO+","conc":2294,"pres":1522},{"panel":"e","series":"SAM- ENSO+","conc":2295,"pres":1578},{"panel":"e","series":"SAM- ENSO+","conc":2295,"pres":1633},{"panel":"e","series":"SAM- ENSO+","conc":2294,"pres":1689},{"panel":"e","series":"SAM- ENSO+","conc":2293,"pres":1744},{"panel":"e","series":"SAM- ENSO+","conc":2291,"pres":1800},{"panel":"e","series":"SAM- ENSO+","conc":2288,"pres":1844},{"panel":"e","series":"SAM- ENSO+","conc":2285,"pres":1911},
      {"panel":"e","series":"SAM+ ENSO+","conc":2262,"pres":45},{"panel":"e","series":"SAM+ ENSO+","conc":2272,"pres":92},{"panel":"e","series":"SAM+ ENSO+","conc":2280,"pres":140},{"panel":"e","series":"SAM+ ENSO+","conc":2287,"pres":200},{"panel":"e","series":"SAM+ ENSO+","conc":2293,"pres":250},{"panel":"e","series":"SAM+ ENSO+","conc":2300,"pres":290},{"panel":"e","series":"SAM+ ENSO+","conc":2306,"pres":333},{"panel":"e","series":"SAM+ ENSO+","conc":2307,"pres":367},{"panel":"e","series":"SAM+ ENSO+","conc":2287,"pres":467},{"panel":"e","series":"SAM+ ENSO+","conc":2282,"pres":522},{"panel":"e","series":"SAM+ ENSO+","conc":2279,"pres":571},{"panel":"e","series":"SAM+ ENSO+","conc":2278,"pres":620},{"panel":"e","series":"SAM+ ENSO+","conc":2266,"pres":718},{"panel":"e","series":"SAM+ ENSO+","conc":2251,"pres":807},{"panel":"e","series":"SAM+ ENSO+","conc":2250,"pres":856},{"panel":"e","series":"SAM+ ENSO+","conc":2249,"pres":900},{"panel":"e","series":"SAM+ ENSO+","conc":2230,"pres":967},{"panel":"e","series":"SAM+ ENSO+","conc":2222,"pres":1016},{"panel":"e","series":"SAM+ ENSO+","conc":2223,"pres":1073},{"panel":"e","series":"SAM+ ENSO+","conc":2221,"pres":1122},{"panel":"e","series":"SAM+ ENSO+","conc":2219,"pres":1167},{"panel":"e","series":"SAM+ ENSO+","conc":2242,"pres":1229},{"panel":"e","series":"SAM+ ENSO+","conc":2251,"pres":1273},{"panel":"e","series":"SAM+ ENSO+","conc":2249,"pres":1322},{"panel":"e","series":"SAM+ ENSO+","conc":2243,"pres":1378},{"panel":"e","series":"SAM+ ENSO+","conc":2238,"pres":1416},{"panel":"e","series":"SAM+ ENSO+","conc":2238,"pres":1467},{"panel":"e","series":"SAM+ ENSO+","conc":2238,"pres":1522},{"panel":"e","series":"SAM+ ENSO+","conc":2239,"pres":1571},{"panel":"e","series":"SAM+ ENSO+","conc":2239,"pres":1622},{"panel":"e","series":"SAM+ ENSO+","conc":2240,"pres":1673},{"panel":"e","series":"SAM+ ENSO+","conc":2240,"pres":1722},{"panel":"e","series":"SAM+ ENSO+","conc":2239,"pres":1778},{"panel":"e","series":"SAM+ ENSO+","conc":2239,"pres":1822},{"panel":"e","series":"SAM+ ENSO+","conc":2238,"pres":1873},
      {"panel":"e","series":"SAM+ ENSO-","conc":2255,"pres":29},{"panel":"e","series":"SAM+ ENSO-","conc":2270,"pres":80},{"panel":"e","series":"SAM+ ENSO-","conc":2282,"pres":130},{"panel":"e","series":"SAM+ ENSO-","conc":2292,"pres":180},{"panel":"e","series":"SAM+ ENSO-","conc":2298,"pres":230},{"panel":"e","series":"SAM+ ENSO-","conc":2302,"pres":280},{"panel":"e","series":"SAM+ ENSO-","conc":2305,"pres":330},{"panel":"e","series":"SAM+ ENSO-","conc":2306,"pres":380},{"panel":"e","series":"SAM+ ENSO-","conc":2306,"pres":430},{"panel":"e","series":"SAM+ ENSO-","conc":2305,"pres":480},{"panel":"e","series":"SAM+ ENSO-","conc":2306,"pres":530},{"panel":"e","series":"SAM+ ENSO-","conc":2304,"pres":580},{"panel":"e","series":"SAM+ ENSO-","conc":2300,"pres":630},{"panel":"e","series":"SAM+ ENSO-","conc":2297,"pres":680},{"panel":"e","series":"SAM+ ENSO-","conc":2294,"pres":730},{"panel":"e","series":"SAM+ ENSO-","conc":2292,"pres":780},{"panel":"e","series":"SAM+ ENSO-","conc":2290,"pres":830},{"panel":"e","series":"SAM+ ENSO-","conc":2288,"pres":878},{"panel":"e","series":"SAM+ ENSO-","conc":2282,"pres":944},{"panel":"e","series":"SAM+ ENSO-","conc":2280,"pres":1000},{"panel":"e","series":"SAM+ ENSO-","conc":2279,"pres":1044},{"panel":"e","series":"SAM+ ENSO-","conc":2278,"pres":1100},{"panel":"e","series":"SAM+ ENSO-","conc":2279,"pres":1156},{"panel":"e","series":"SAM+ ENSO-","conc":2280,"pres":1211},{"panel":"e","series":"SAM+ ENSO-","conc":2282,"pres":1278},{"panel":"e","series":"SAM+ ENSO-","conc":2284,"pres":1344},{"panel":"e","series":"SAM+ ENSO-","conc":2285,"pres":1400},{"panel":"e","series":"SAM+ ENSO-","conc":2286,"pres":1456},{"panel":"e","series":"SAM+ ENSO-","conc":2286,"pres":1522},{"panel":"e","series":"SAM+ ENSO-","conc":2287,"pres":1578},{"panel":"e","series":"SAM+ ENSO-","conc":2285,"pres":1633},{"panel":"e","series":"SAM+ ENSO-","conc":2280,"pres":1700},{"panel":"e","series":"SAM+ ENSO-","conc":2273,"pres":1744},{"panel":"e","series":"SAM+ ENSO-","conc":2268,"pres":1789},{"panel":"e","series":"SAM+ ENSO-","conc":2266,"pres":1822},
      {"panel":"e","series":"Neutral","conc":2241,"pres":22},{"panel":"e","series":"Neutral","conc":2261,"pres":73},{"panel":"e","series":"Neutral","conc":2273,"pres":118},{"panel":"e","series":"Neutral","conc":2278,"pres":167},{"panel":"e","series":"Neutral","conc":2287,"pres":216},{"panel":"e","series":"Neutral","conc":2293,"pres":267},{"panel":"e","series":"Neutral","conc":2297,"pres":318},{"panel":"e","series":"Neutral","conc":2300,"pres":367},{"panel":"e","series":"Neutral","conc":2302,"pres":416},{"panel":"e","series":"Neutral","conc":2304,"pres":467},{"panel":"e","series":"Neutral","conc":2305,"pres":518},{"panel":"e","series":"Neutral","conc":2303,"pres":567},{"panel":"e","series":"Neutral","conc":2302,"pres":622},{"panel":"e","series":"Neutral","conc":2296,"pres":673},{"panel":"e","series":"Neutral","conc":2294,"pres":722},{"panel":"e","series":"Neutral","conc":2293,"pres":771},{"panel":"e","series":"Neutral","conc":2287,"pres":822},{"panel":"e","series":"Neutral","conc":2274,"pres":873},{"panel":"e","series":"Neutral","conc":2268,"pres":918},{"panel":"e","series":"Neutral","conc":2261,"pres":967},{"panel":"e","series":"Neutral","conc":2264,"pres":1011},{"panel":"e","series":"Neutral","conc":2263,"pres":1073},{"panel":"e","series":"Neutral","conc":2251,"pres":1122},{"panel":"e","series":"Neutral","conc":2237,"pres":1162},{"panel":"e","series":"Neutral","conc":2233,"pres":1211},{"panel":"e","series":"Neutral","conc":2231,"pres":1267},{"panel":"e","series":"Neutral","conc":2212,"pres":1322},{"panel":"e","series":"Neutral","conc":2211,"pres":1371},{"panel":"e","series":"Neutral","conc":2210,"pres":1422},{"panel":"e","series":"Neutral","conc":2209,"pres":1473},{"panel":"e","series":"Neutral","conc":2209,"pres":1522},{"panel":"e","series":"Neutral","conc":2209,"pres":1571},{"panel":"e","series":"Neutral","conc":2210,"pres":1622},{"panel":"e","series":"Neutral","conc":2211,"pres":1673},{"panel":"e","series":"Neutral","conc":2211,"pres":1722},{"panel":"e","series":"Neutral","conc":2210,"pres":1778},{"panel":"e","series":"Neutral","conc":2209,"pres":1822},{"panel":"e","series":"Neutral","conc":2210,"pres":1873},

      {"panel":"f","series":"SAM- ENSO+","conc":2230,"pres":61},{"panel":"f","series":"SAM- ENSO+","conc":2266,"pres":150},{"panel":"f","series":"SAM- ENSO+","conc":2264,"pres":250},{"panel":"f","series":"SAM- ENSO+","conc":2258,"pres":350},{"panel":"f","series":"SAM- ENSO+","conc":2253,"pres":440},{"panel":"f","series":"SAM- ENSO+","conc":2247,"pres":592},{"panel":"f","series":"SAM- ENSO+","conc":2255,"pres":650},{"panel":"f","series":"SAM- ENSO+","conc":2264,"pres":772},{"panel":"f","series":"SAM- ENSO+","conc":2251,"pres":850},{"panel":"f","series":"SAM- ENSO+","conc":2256,"pres":950},{"panel":"f","series":"SAM- ENSO+","conc":2250,"pres":1050},{"panel":"f","series":"SAM- ENSO+","conc":2256,"pres":1150},{"panel":"f","series":"SAM- ENSO+","conc":2249,"pres":1250},{"panel":"f","series":"SAM- ENSO+","conc":2254,"pres":1350},{"panel":"f","series":"SAM- ENSO+","conc":2251,"pres":1450},{"panel":"f","series":"SAM- ENSO+","conc":2246,"pres":1597},{"panel":"f","series":"SAM- ENSO+","conc":2252,"pres":1700},{"panel":"f","series":"SAM- ENSO+","conc":2256,"pres":1800},{"panel":"f","series":"SAM- ENSO+","conc":2250,"pres":1900},{"panel":"f","series":"SAM- ENSO+","conc":2253,"pres":2000},{"panel":"f","series":"SAM- ENSO+","conc":2247,"pres":2100},{"panel":"f","series":"SAM- ENSO+","conc":2246,"pres":2172},
      {"panel":"f","series":"SAM+ ENSO+","conc":2211,"pres":27},{"panel":"f","series":"SAM+ ENSO+","conc":2232,"pres":72},{"panel":"f","series":"SAM+ ENSO+","conc":2263,"pres":129},{"panel":"f","series":"SAM+ ENSO+","conc":2268,"pres":175},{"panel":"f","series":"SAM+ ENSO+","conc":2274,"pres":219},{"panel":"f","series":"SAM+ ENSO+","conc":2262,"pres":271},{"panel":"f","series":"SAM+ ENSO+","conc":2260,"pres":320},{"panel":"f","series":"SAM+ ENSO+","conc":2257,"pres":370},{"panel":"f","series":"SAM+ ENSO+","conc":2255,"pres":420},{"panel":"f","series":"SAM+ ENSO+","conc":2257,"pres":470},{"panel":"f","series":"SAM+ ENSO+","conc":2256,"pres":520},{"panel":"f","series":"SAM+ ENSO+","conc":2249,"pres":570},{"panel":"f","series":"SAM+ ENSO+","conc":2258,"pres":620},{"panel":"f","series":"SAM+ ENSO+","conc":2247,"pres":670},{"panel":"f","series":"SAM+ ENSO+","conc":2262,"pres":720},{"panel":"f","series":"SAM+ ENSO+","conc":2255,"pres":770},{"panel":"f","series":"SAM+ ENSO+","conc":2246,"pres":817},{"panel":"f","series":"SAM+ ENSO+","conc":2264,"pres":908},{"panel":"f","series":"SAM+ ENSO+","conc":2254,"pres":960},{"panel":"f","series":"SAM+ ENSO+","conc":2250,"pres":1020},{"panel":"f","series":"SAM+ ENSO+","conc":2258,"pres":1070},{"panel":"f","series":"SAM+ ENSO+","conc":2245,"pres":1168},{"panel":"f","series":"SAM+ ENSO+","conc":2262,"pres":1230},{"panel":"f","series":"SAM+ ENSO+","conc":2258,"pres":1287},{"panel":"f","series":"SAM+ ENSO+","conc":2250,"pres":1340},{"panel":"f","series":"SAM+ ENSO+","conc":2256,"pres":1400},{"panel":"f","series":"SAM+ ENSO+","conc":2248,"pres":1450},{"panel":"f","series":"SAM+ ENSO+","conc":2247,"pres":1529},{"panel":"f","series":"SAM+ ENSO+","conc":2271,"pres":1574},{"panel":"f","series":"SAM+ ENSO+","conc":2262,"pres":1620},{"panel":"f","series":"SAM+ ENSO+","conc":2250,"pres":1680},{"panel":"f","series":"SAM+ ENSO+","conc":2256,"pres":1740},{"panel":"f","series":"SAM+ ENSO+","conc":2252,"pres":1800},{"panel":"f","series":"SAM+ ENSO+","conc":2249,"pres":1860},{"panel":"f","series":"SAM+ ENSO+","conc":2258,"pres":1981},{"panel":"f","series":"SAM+ ENSO+","conc":2246,"pres":2037},{"panel":"f","series":"SAM+ ENSO+","conc":2256,"pres":2100},{"panel":"f","series":"SAM+ ENSO+","conc":2239,"pres":2177},
      {"panel":"f","series":"SAM+ ENSO-","conc":2231,"pres":50},{"panel":"f","series":"SAM+ ENSO-","conc":2262,"pres":140},{"panel":"f","series":"SAM+ ENSO-","conc":2266,"pres":200},{"panel":"f","series":"SAM+ ENSO-","conc":2262,"pres":260},{"panel":"f","series":"SAM+ ENSO-","conc":2256,"pres":330},{"panel":"f","series":"SAM+ ENSO-","conc":2255,"pres":400},{"panel":"f","series":"SAM+ ENSO-","conc":2250,"pres":460},{"panel":"f","series":"SAM+ ENSO-","conc":2249,"pres":530},{"panel":"f","series":"SAM+ ENSO-","conc":2252,"pres":600},{"panel":"f","series":"SAM+ ENSO-","conc":2254,"pres":660},{"panel":"f","series":"SAM+ ENSO-","conc":2250,"pres":720},{"panel":"f","series":"SAM+ ENSO-","conc":2258,"pres":790},{"panel":"f","series":"SAM+ ENSO-","conc":2249,"pres":860},{"panel":"f","series":"SAM+ ENSO-","conc":2256,"pres":930},{"panel":"f","series":"SAM+ ENSO-","conc":2252,"pres":1000},{"panel":"f","series":"SAM+ ENSO-","conc":2260,"pres":1060},{"panel":"f","series":"SAM+ ENSO-","conc":2249,"pres":1130},{"panel":"f","series":"SAM+ ENSO-","conc":2256,"pres":1200},{"panel":"f","series":"SAM+ ENSO-","conc":2250,"pres":1260},{"panel":"f","series":"SAM+ ENSO-","conc":2258,"pres":1330},{"panel":"f","series":"SAM+ ENSO-","conc":2252,"pres":1400},{"panel":"f","series":"SAM+ ENSO-","conc":2257,"pres":1460},{"panel":"f","series":"SAM+ ENSO-","conc":2249,"pres":1530},{"panel":"f","series":"SAM+ ENSO-","conc":2254,"pres":1600},{"panel":"f","series":"SAM+ ENSO-","conc":2250,"pres":1660},{"panel":"f","series":"SAM+ ENSO-","conc":2257,"pres":1720},{"panel":"f","series":"SAM+ ENSO-","conc":2250,"pres":1790},{"panel":"f","series":"SAM+ ENSO-","conc":2255,"pres":1850},{"panel":"f","series":"SAM+ ENSO-","conc":2249,"pres":1920},{"panel":"f","series":"SAM+ ENSO-","conc":2256,"pres":1990},{"panel":"f","series":"SAM+ ENSO-","conc":2252,"pres":2060},{"panel":"f","series":"SAM+ ENSO-","conc":2253,"pres":2161},
      {"panel":"f","series":"Neutral","conc":2220,"pres":23},{"panel":"f","series":"Neutral","conc":2240,"pres":72},{"panel":"f","series":"Neutral","conc":2251,"pres":117},{"panel":"f","series":"Neutral","conc":2268,"pres":163},{"panel":"f","series":"Neutral","conc":2271,"pres":212},{"panel":"f","series":"Neutral","conc":2270,"pres":264},{"panel":"f","series":"Neutral","conc":2265,"pres":321},{"panel":"f","series":"Neutral","conc":2258,"pres":370},{"panel":"f","series":"Neutral","conc":2256,"pres":422},{"panel":"f","series":"Neutral","conc":2254,"pres":467},{"panel":"f","series":"Neutral","conc":2258,"pres":519},{"panel":"f","series":"Neutral","conc":2253,"pres":574},{"panel":"f","series":"Neutral","conc":2254,"pres":619},{"panel":"f","series":"Neutral","conc":2260,"pres":671},{"panel":"f","series":"Neutral","conc":2258,"pres":723},{"panel":"f","series":"Neutral","conc":2254,"pres":772},{"panel":"f","series":"Neutral","conc":2256,"pres":822},{"panel":"f","series":"Neutral","conc":2252,"pres":919},{"panel":"f","series":"Neutral","conc":2256,"pres":971},{"panel":"f","series":"Neutral","conc":2265,"pres":1025},{"panel":"f","series":"Neutral","conc":2257,"pres":1077},{"panel":"f","series":"Neutral","conc":2252,"pres":1122},{"panel":"f","series":"Neutral","conc":2261,"pres":1174},{"panel":"f","series":"Neutral","conc":2251,"pres":1224},{"panel":"f","series":"Neutral","conc":2249,"pres":1274},{"panel":"f","series":"Neutral","conc":2262,"pres":1371},{"panel":"f","series":"Neutral","conc":2249,"pres":1423},{"panel":"f","series":"Neutral","conc":2259,"pres":1477},{"panel":"f","series":"Neutral","conc":2253,"pres":1574},{"panel":"f","series":"Neutral","conc":2256,"pres":1626},{"panel":"f","series":"Neutral","conc":2260,"pres":1725},{"panel":"f","series":"Neutral","conc":2251,"pres":1777},{"panel":"f","series":"Neutral","conc":2260,"pres":1879},{"panel":"f","series":"Neutral","conc":2250,"pres":1924},{"panel":"f","series":"Neutral","conc":2251,"pres":2078}
    ]
  },
  "vconcat": [
    {
      "title": {"text": "Total Alkalinity (µmol kg⁻¹)", "anchor": "middle", "frame": "bounds", "fontSize": 33, "offset": 3, "dx": 36},
      "bounds": "flush",
      "spacing": 100,
      "hconcat": [
        {
          "width": 245, "height": 367,
          "title": {"text": "Western"},
          "resolve": {"axis": {"x": "independent", "y": "independent"}},
          "layer": [
            {"data": {"name": "refs"}, "transform": [{"filter": "datum.panel === 'a' && datum.kind === 'dotted'"}], "mark": {"type": "rule", "strokeDash": [0.1, 11.7], "strokeCap": "round", "strokeWidth": 3.6, "color": "black"}, "encoding": {"y": {"field": "pres", "type": "quantitative", "scale": {"domain": [0, 2500], "reverse": true, "nice": false}, "axis": {"orient": "left", "values": [0,100,200,300,400,500,600,700,800,900,1000,1100,1200,1300,1400,1500,1600,1700,1800,1900,2000,2100,2200,2300,2400,2500], "labels": false, "domain": false, "tickSize": 4}}}},
            {"data": {"name": "refs"}, "transform": [{"filter": "datum.panel === 'a' && datum.kind === 'dashed'"}], "mark": {"type": "rule", "strokeDash": [12, 7], "strokeWidth": 3.5, "color": "black"}, "encoding": {"y": {"field": "pres", "type": "quantitative", "scale": {"domain": [0, 2500], "reverse": true, "nice": false}, "axis": null}}},
            {"data": {"name": "profiles"}, "transform": [{"filter": "datum.panel === 'a'"}], "mark": {"type": "point", "size": 230, "strokeWidth": 1.1, "opacity": 1},
             "encoding": {
               "x": {"field": "conc", "type": "quantitative", "scale": {"domain": [2250, 2450], "nice": false, "zero": false}, "axis": {"orient": "top", "values": [2250, 2300, 2350, 2400, 2450], "format": "d", "tickSize": 8}},
               "y": {"field": "pres", "type": "quantitative", "scale": {"domain": [0, 2500], "reverse": true, "nice": false}, "axis": {"orient": "left", "values": [0, 500, 1000, 1500, 2000, 2500], "format": "d", "tickSize": 8}},
               "shape": {"field": "series", "type": "nominal", "scale": {"domain": ["Neutral", "SAM+ ENSO+", "SAM+ ENSO-", "SAM- ENSO+"], "range": ["circle", "diamond", "triangle-right", "M0,-1L0.866,-0.5L0.866,0.5L0,1L-0.866,0.5L-0.866,-0.5Z"]}},
               "fill": {"field": "series", "type": "nominal", "scale": {"domain": ["Neutral", "SAM+ ENSO+", "SAM+ ENSO-", "SAM- ENSO+"], "range": ["#5E979E", "#B3AB6E", "transparent", "#FFFFFF"]}},
               "stroke": {"field": "series", "type": "nominal", "scale": {"domain": ["Neutral", "SAM+ ENSO+", "SAM+ ENSO-", "SAM- ENSO+"], "range": ["#1E2A2C", "#2B2A1E", "#BC853C", "#222222"]}}
             }},
            {"data": {"values": [{"label": "(a)"}]}, "mark": {"type": "text", "align": "left", "baseline": "middle", "dx": 5, "fontSize": 22, "fontWeight": "bold"}, "encoding": {"text": {"field": "label"}, "x": {"datum": 2250, "type": "quantitative", "scale": {"domain": [2250, 2450], "nice": false, "zero": false}, "axis": {"orient": "top", "values": [2250,2260,2270,2280,2290,2300,2310,2320,2330,2340,2350,2360,2370,2380,2390,2400,2410,2420,2430,2440,2450], "labels": false, "domain": false, "tickSize": 4}}, "y": {"datum": 100, "type": "quantitative", "scale": {"domain": [0, 2500], "reverse": true, "nice": false}, "axis": null}}}
          ]
        },
        {
          "width": 250, "height": 375,
          "title": {"text": "Central"},
          "resolve": {"axis": {"x": "independent", "y": "independent"}},
          "layer": [
            {"data": {"name": "refs"}, "transform": [{"filter": "datum.panel === 'b' && datum.kind === 'dotted'"}], "mark": {"type": "rule", "strokeDash": [0.1, 11.7], "strokeCap": "round", "strokeWidth": 3.6, "color": "black"}, "encoding": {"y": {"field": "pres", "type": "quantitative", "scale": {"domain": [0, 2500], "reverse": true, "nice": false}, "axis": {"orient": "left", "values": [0,100,200,300,400,500,600,700,800,900,1000,1100,1200,1300,1400,1500,1600,1700,1800,1900,2000,2100,2200,2300,2400,2500], "labels": false, "domain": false, "tickSize": 4}}}},
            {"data": {"name": "refs"}, "transform": [{"filter": "datum.panel === 'b' && datum.kind === 'dashed'"}], "mark": {"type": "rule", "strokeDash": [12, 7], "strokeWidth": 3.5, "color": "black"}, "encoding": {"y": {"field": "pres", "type": "quantitative", "scale": {"domain": [0, 2500], "reverse": true, "nice": false}, "axis": null}}},
            {"data": {"name": "profiles"}, "transform": [{"filter": "datum.panel === 'b'"}], "mark": {"type": "point", "size": 230, "strokeWidth": 1.1, "opacity": 1},
             "encoding": {
               "x": {"field": "conc", "type": "quantitative", "scale": {"domain": [2250, 2450], "nice": false, "zero": false}, "axis": {"orient": "top", "values": [2250, 2300, 2350, 2400, 2450], "format": "d", "tickSize": 8}},
               "y": {"field": "pres", "type": "quantitative", "scale": {"domain": [0, 2500], "reverse": true, "nice": false}, "axis": {"orient": "left", "values": [0, 500, 1000, 1500, 2000, 2500], "labels": false, "tickSize": 8}},
               "shape": {"field": "series", "type": "nominal", "scale": {"domain": ["Neutral", "SAM+ ENSO+", "SAM+ ENSO-", "SAM- ENSO+"], "range": ["circle", "diamond", "triangle-right", "M0,-1L0.866,-0.5L0.866,0.5L0,1L-0.866,0.5L-0.866,-0.5Z"]}},
               "fill": {"field": "series", "type": "nominal", "scale": {"domain": ["Neutral", "SAM+ ENSO+", "SAM+ ENSO-", "SAM- ENSO+"], "range": ["#5E979E", "#B3AB6E", "transparent", "#FFFFFF"]}},
               "stroke": {"field": "series", "type": "nominal", "scale": {"domain": ["Neutral", "SAM+ ENSO+", "SAM+ ENSO-", "SAM- ENSO+"], "range": ["#1E2A2C", "#2B2A1E", "#BC853C", "#222222"]}}
             }},
            {"data": {"values": [{"label": "(b)"}]}, "mark": {"type": "text", "align": "left", "baseline": "middle", "dx": 5, "fontSize": 22, "fontWeight": "bold"}, "encoding": {"text": {"field": "label"}, "x": {"datum": 2250, "type": "quantitative", "scale": {"domain": [2250, 2450], "nice": false, "zero": false}, "axis": {"orient": "top", "values": [2250,2260,2270,2280,2290,2300,2310,2320,2330,2340,2350,2360,2370,2380,2390,2400,2410,2420,2430,2440,2450], "labels": false, "domain": false, "tickSize": 4}}, "y": {"datum": 100, "type": "quantitative", "scale": {"domain": [0, 2500], "reverse": true, "nice": false}, "axis": null}}}
          ]
        },
        {
          "width": 251, "height": 375,
          "title": {"text": "Eastern"},
          "resolve": {"axis": {"x": "independent", "y": "independent"}},
          "layer": [
            {"data": {"name": "refs"}, "transform": [{"filter": "datum.panel === 'c' && datum.kind === 'dotted'"}], "mark": {"type": "rule", "strokeDash": [0.1, 11.7], "strokeCap": "round", "strokeWidth": 3.6, "color": "black"}, "encoding": {"y": {"field": "pres", "type": "quantitative", "scale": {"domain": [0, 2500], "reverse": true, "nice": false}, "axis": {"orient": "left", "values": [0,100,200,300,400,500,600,700,800,900,1000,1100,1200,1300,1400,1500,1600,1700,1800,1900,2000,2100,2200,2300,2400,2500], "labels": false, "domain": false, "tickSize": 4}}}},
            {"data": {"name": "refs"}, "transform": [{"filter": "datum.panel === 'c' && datum.kind === 'dashed'"}], "mark": {"type": "rule", "strokeDash": [12, 7], "strokeWidth": 3.5, "color": "black"}, "encoding": {"y": {"field": "pres", "type": "quantitative", "scale": {"domain": [0, 2500], "reverse": true, "nice": false}, "axis": null}}},
            {"data": {"name": "profiles"}, "transform": [{"filter": "datum.panel === 'c'"}], "mark": {"type": "point", "size": 230, "strokeWidth": 1.1, "opacity": 1},
             "encoding": {
               "x": {"field": "conc", "type": "quantitative", "scale": {"domain": [2250, 2450], "nice": false, "zero": false}, "axis": {"orient": "top", "values": [2250, 2300, 2350, 2400, 2450], "format": "d", "tickSize": 8}},
               "y": {"field": "pres", "type": "quantitative", "scale": {"domain": [0, 2500], "reverse": true, "nice": false}, "axis": {"orient": "left", "values": [0, 500, 1000, 1500, 2000, 2500], "labels": false, "tickSize": 8}},
               "shape": {"field": "series", "type": "nominal", "scale": {"domain": ["Neutral", "SAM+ ENSO+", "SAM+ ENSO-", "SAM- ENSO+"], "range": ["circle", "diamond", "triangle-right", "M0,-1L0.866,-0.5L0.866,0.5L0,1L-0.866,0.5L-0.866,-0.5Z"]}},
               "fill": {"field": "series", "type": "nominal", "scale": {"domain": ["Neutral", "SAM+ ENSO+", "SAM+ ENSO-", "SAM- ENSO+"], "range": ["#5E979E", "#B3AB6E", "transparent", "#FFFFFF"]}},
               "stroke": {"field": "series", "type": "nominal", "scale": {"domain": ["Neutral", "SAM+ ENSO+", "SAM+ ENSO-", "SAM- ENSO+"], "range": ["#1E2A2C", "#2B2A1E", "#BC853C", "#222222"]}}
             }},
            {"data": {"values": [{"label": "(c)"}]}, "mark": {"type": "text", "align": "left", "baseline": "middle", "dx": 5, "fontSize": 22, "fontWeight": "bold"}, "encoding": {"text": {"field": "label"}, "x": {"datum": 2250, "type": "quantitative", "scale": {"domain": [2250, 2450], "nice": false, "zero": false}, "axis": {"orient": "top", "values": [2250,2260,2270,2280,2290,2300,2310,2320,2330,2340,2350,2360,2370,2380,2390,2400,2410,2420,2430,2440,2450], "labels": false, "domain": false, "tickSize": 4}}, "y": {"datum": 100, "type": "quantitative", "scale": {"domain": [0, 2500], "reverse": true, "nice": false}, "axis": null}}}
          ]
        }
      ]
    },
    {
      "title": {"text": "Total Inorganic Carbon (µmol kg⁻¹)", "anchor": "middle", "frame": "bounds", "fontSize": 30, "offset": 6, "dx": 39},
      "bounds": "flush",
      "spacing": 103,
      "hconcat": [
        {
          "width": 245, "height": 367,
          "resolve": {"axis": {"x": "independent", "y": "independent"}},
          "layer": [
            {"data": {"name": "refs"}, "transform": [{"filter": "datum.panel === 'd' && datum.kind === 'dotted'"}], "mark": {"type": "rule", "strokeDash": [0.1, 11.7], "strokeCap": "round", "strokeWidth": 3.6, "color": "black"}, "encoding": {"y": {"field": "pres", "type": "quantitative", "scale": {"domain": [0, 2500], "reverse": true, "nice": false}, "axis": {"orient": "left", "values": [0,100,200,300,400,500,600,700,800,900,1000,1100,1200,1300,1400,1500,1600,1700,1800,1900,2000,2100,2200,2300,2400,2500], "labels": false, "domain": false, "tickSize": 4}}}},
            {"data": {"name": "refs"}, "transform": [{"filter": "datum.panel === 'd' && datum.kind === 'dashed'"}], "mark": {"type": "rule", "strokeDash": [12, 7], "strokeWidth": 3.5, "color": "black"}, "encoding": {"y": {"field": "pres", "type": "quantitative", "scale": {"domain": [0, 2500], "reverse": true, "nice": false}, "axis": null}}},
            {"data": {"name": "profiles"}, "transform": [{"filter": "datum.panel === 'd'"}], "mark": {"type": "point", "size": 230, "strokeWidth": 1.1, "opacity": 1},
             "encoding": {
               "x": {"field": "conc", "type": "quantitative", "scale": {"domain": [2150, 2330], "nice": false, "zero": false}, "axis": {"orient": "top", "values": [2150, 2210, 2270, 2330], "format": "d", "tickSize": 8}},
               "y": {"field": "pres", "type": "quantitative", "scale": {"domain": [0, 2500], "reverse": true, "nice": false}, "axis": {"orient": "left", "values": [0, 500, 1000, 1500, 2000, 2500], "format": "d", "tickSize": 8}},
               "shape": {"field": "series", "type": "nominal", "scale": {"domain": ["Neutral", "SAM+ ENSO+", "SAM+ ENSO-", "SAM- ENSO+"], "range": ["circle", "diamond", "triangle-right", "M0,-1L0.866,-0.5L0.866,0.5L0,1L-0.866,0.5L-0.866,-0.5Z"]}},
               "fill": {"field": "series", "type": "nominal", "scale": {"domain": ["Neutral", "SAM+ ENSO+", "SAM+ ENSO-", "SAM- ENSO+"], "range": ["#5E979E", "#B3AB6E", "transparent", "#FFFFFF"]}},
               "stroke": {"field": "series", "type": "nominal", "scale": {"domain": ["Neutral", "SAM+ ENSO+", "SAM+ ENSO-", "SAM- ENSO+"], "range": ["#1E2A2C", "#2B2A1E", "#BC853C", "#222222"]}}
             }},
            {"data": {"values": [{"label": "(d)"}]}, "mark": {"type": "text", "align": "left", "baseline": "middle", "dx": 5, "fontSize": 22, "fontWeight": "bold"}, "encoding": {"text": {"field": "label"}, "x": {"datum": 2150, "type": "quantitative", "scale": {"domain": [2150, 2330], "nice": false, "zero": false}, "axis": {"orient": "top", "values": [2150,2162,2174,2186,2198,2210,2222,2234,2246,2258,2270,2282,2294,2306,2318,2330], "labels": false, "domain": false, "tickSize": 4}}, "y": {"datum": 100, "type": "quantitative", "scale": {"domain": [0, 2500], "reverse": true, "nice": false}, "axis": null}}}
          ]
        },
        {
          "width": 250, "height": 375,
          "resolve": {"axis": {"x": "independent", "y": "independent"}},
          "layer": [
            {"data": {"name": "refs"}, "transform": [{"filter": "datum.panel === 'e' && datum.kind === 'dotted'"}], "mark": {"type": "rule", "strokeDash": [0.1, 11.7], "strokeCap": "round", "strokeWidth": 3.6, "color": "black"}, "encoding": {"y": {"field": "pres", "type": "quantitative", "scale": {"domain": [0, 2500], "reverse": true, "nice": false}, "axis": {"orient": "left", "values": [0,100,200,300,400,500,600,700,800,900,1000,1100,1200,1300,1400,1500,1600,1700,1800,1900,2000,2100,2200,2300,2400,2500], "labels": false, "domain": false, "tickSize": 4}}}},
            {"data": {"name": "refs"}, "transform": [{"filter": "datum.panel === 'e' && datum.kind === 'dashed'"}], "mark": {"type": "rule", "strokeDash": [12, 7], "strokeWidth": 3.5, "color": "black"}, "encoding": {"y": {"field": "pres", "type": "quantitative", "scale": {"domain": [0, 2500], "reverse": true, "nice": false}, "axis": null}}},
            {"data": {"name": "profiles"}, "transform": [{"filter": "datum.panel === 'e'"}], "mark": {"type": "point", "size": 230, "strokeWidth": 1.1, "opacity": 1},
             "encoding": {
               "x": {"field": "conc", "type": "quantitative", "scale": {"domain": [2150, 2330], "nice": false, "zero": false}, "axis": {"orient": "top", "values": [2150, 2210, 2270, 2330], "format": "d", "tickSize": 8}},
               "y": {"field": "pres", "type": "quantitative", "scale": {"domain": [0, 2500], "reverse": true, "nice": false}, "axis": {"orient": "left", "values": [0, 500, 1000, 1500, 2000, 2500], "labels": false, "tickSize": 8}},
               "shape": {"field": "series", "type": "nominal", "scale": {"domain": ["Neutral", "SAM+ ENSO+", "SAM+ ENSO-", "SAM- ENSO+"], "range": ["circle", "diamond", "triangle-right", "M0,-1L0.866,-0.5L0.866,0.5L0,1L-0.866,0.5L-0.866,-0.5Z"]}},
               "fill": {"field": "series", "type": "nominal", "scale": {"domain": ["Neutral", "SAM+ ENSO+", "SAM+ ENSO-", "SAM- ENSO+"], "range": ["#5E979E", "#B3AB6E", "transparent", "#FFFFFF"]}},
               "stroke": {"field": "series", "type": "nominal", "scale": {"domain": ["Neutral", "SAM+ ENSO+", "SAM+ ENSO-", "SAM- ENSO+"], "range": ["#1E2A2C", "#2B2A1E", "#BC853C", "#222222"]}}
             }},
            {"data": {"values": [{"label": "(e)"}]}, "mark": {"type": "text", "align": "left", "baseline": "middle", "dx": 5, "fontSize": 22, "fontWeight": "bold"}, "encoding": {"text": {"field": "label"}, "x": {"datum": 2150, "type": "quantitative", "scale": {"domain": [2150, 2330], "nice": false, "zero": false}, "axis": {"orient": "top", "values": [2150,2162,2174,2186,2198,2210,2222,2234,2246,2258,2270,2282,2294,2306,2318,2330], "labels": false, "domain": false, "tickSize": 4}}, "y": {"datum": 100, "type": "quantitative", "scale": {"domain": [0, 2500], "reverse": true, "nice": false}, "axis": null}}}
          ]
        },
        {
          "width": 247, "height": 372,
          "resolve": {"axis": {"x": "independent", "y": "independent"}},
          "layer": [
            {"data": {"name": "refs"}, "transform": [{"filter": "datum.panel === 'f' && datum.kind === 'dotted'"}], "mark": {"type": "rule", "strokeDash": [0.1, 11.7], "strokeCap": "round", "strokeWidth": 3.6, "color": "black"}, "encoding": {"y": {"field": "pres", "type": "quantitative", "scale": {"domain": [0, 2500], "reverse": true, "nice": false}, "axis": {"orient": "left", "values": [0,100,200,300,400,500,600,700,800,900,1000,1100,1200,1300,1400,1500,1600,1700,1800,1900,2000,2100,2200,2300,2400,2500], "labels": false, "domain": false, "tickSize": 4}}}},
            {"data": {"name": "refs"}, "transform": [{"filter": "datum.panel === 'f' && datum.kind === 'dashed'"}], "mark": {"type": "rule", "strokeDash": [12, 7], "strokeWidth": 3.5, "color": "black"}, "encoding": {"y": {"field": "pres", "type": "quantitative", "scale": {"domain": [0, 2500], "reverse": true, "nice": false}, "axis": null}}},
            {"data": {"name": "profiles"}, "transform": [{"filter": "datum.panel === 'f'"}], "mark": {"type": "point", "size": 230, "strokeWidth": 1.1, "opacity": 1},
             "encoding": {
               "x": {"field": "conc", "type": "quantitative", "scale": {"domain": [2150, 2330], "nice": false, "zero": false}, "axis": {"orient": "top", "values": [2150, 2210, 2270, 2330], "format": "d", "tickSize": 8}},
               "y": {"field": "pres", "type": "quantitative", "scale": {"domain": [0, 2500], "reverse": true, "nice": false}, "axis": {"orient": "left", "values": [0, 500, 1000, 1500, 2000, 2500], "labels": false, "tickSize": 8}},
               "shape": {"field": "series", "type": "nominal", "scale": {"domain": ["Neutral", "SAM+ ENSO+", "SAM+ ENSO-", "SAM- ENSO+"], "range": ["circle", "diamond", "triangle-right", "M0,-1L0.866,-0.5L0.866,0.5L0,1L-0.866,0.5L-0.866,-0.5Z"]}},
               "fill": {"field": "series", "type": "nominal", "scale": {"domain": ["Neutral", "SAM+ ENSO+", "SAM+ ENSO-", "SAM- ENSO+"], "range": ["#5E979E", "#B3AB6E", "transparent", "#FFFFFF"]}},
               "stroke": {"field": "series", "type": "nominal", "scale": {"domain": ["Neutral", "SAM+ ENSO+", "SAM+ ENSO-", "SAM- ENSO+"], "range": ["#1E2A2C", "#2B2A1E", "#BC853C", "#222222"]}}
             }},
            {"data": {"values": [{"label": "(f)"}]}, "mark": {"type": "text", "align": "left", "baseline": "middle", "dx": 5, "fontSize": 22, "fontWeight": "bold"}, "encoding": {"text": {"field": "label"}, "x": {"datum": 2150, "type": "quantitative", "scale": {"domain": [2150, 2330], "nice": false, "zero": false}, "axis": {"orient": "top", "values": [2150,2162,2174,2186,2198,2210,2222,2234,2246,2258,2270,2282,2294,2306,2318,2330], "labels": false, "domain": false, "tickSize": 4}}, "y": {"datum": 100, "type": "quantitative", "scale": {"domain": [0, 2500], "reverse": true, "nice": false}, "axis": null}}}
          ]
        }
      ]
    }
  ],
  "spacing": 26,
  "resolve": {"scale": {"shape": "shared", "fill": "shared", "stroke": "shared"}},
  "config": {
    "font": "Liberation Sans",
    "view": {"stroke": null},
    "title": {"font": "Liberation Sans", "fontWeight": "bold", "fontSize": 29, "color": "black", "frame": "group", "offset": 12},
    "text": {"font": "Liberation Sans", "color": "black"},
    "axis": {"title": null, "grid": false, "domainColor": "black", "domainWidth": 2.5, "tickColor": "black", "tickWidth": 2, "labelFont": "Liberation Sans", "labelFontWeight": "bold", "labelFontSize": 18, "labelColor": "black", "labelPadding": 3, "labelOverlap": false, "labelFlush": false, "labelBound": false},
    "legend": {"orient": "none", "legendX": 651, "legendY": 860, "direction": "horizontal", "columns": 2, "title": null, "labelFont": "Liberation Sans", "labelFontSize": 20, "labelColor": "black", "symbolSize": 160, "symbolStrokeWidth": 1.3, "labelOffset": 18, "columnPadding": 8, "rowPadding": 12, "labelLimit": 300}
  }
}
